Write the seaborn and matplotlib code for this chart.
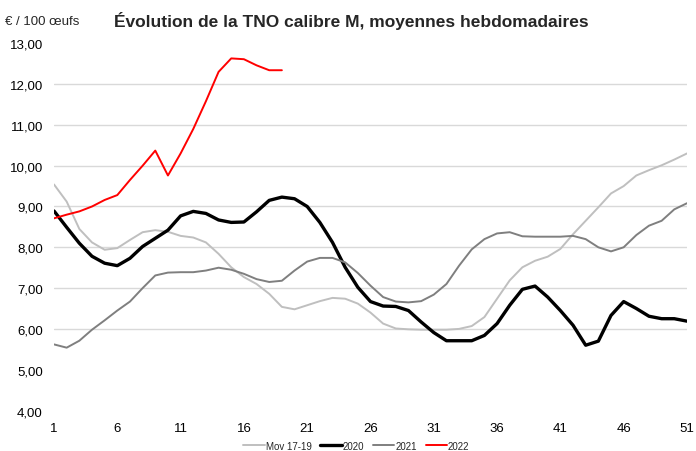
import numpy as np
import pandas as pd
import matplotlib
matplotlib.use("Agg")
import matplotlib.pyplot as plt
import seaborn as sns

weeks = list(range(1, 52))

mov_17_19 = [9.54, 9.12, 8.45, 8.12, 7.94, 7.98, 8.18, 8.37, 8.42, 8.38,
             8.28, 8.24, 8.12, 7.84, 7.51, 7.27, 7.10, 6.86, 6.54, 6.48,
             6.58, 6.68, 6.76, 6.74, 6.62, 6.40, 6.13, 6.01, 5.99, 5.98,
             5.98, 5.98, 6.00, 6.07, 6.29, 6.74, 7.19, 7.51, 7.67, 7.77,
             7.96, 8.32, 8.65, 8.98, 9.32, 9.50, 9.76, 9.89, 10.01, 10.15, 10.30]

y2020 = [8.89, 8.49, 8.10, 7.78, 7.61, 7.55, 7.73, 8.02, 8.22, 8.42,
         8.77, 8.88, 8.83, 8.67, 8.61, 8.62, 8.87, 9.15, 9.23, 9.19,
         9.00, 8.61, 8.12, 7.51, 7.02, 6.67, 6.56, 6.55, 6.45, 6.17,
         5.91, 5.71, 5.71, 5.71, 5.84, 6.13, 6.58, 6.97, 7.05, 6.78,
         6.45, 6.09, 5.60, 5.70, 6.33, 6.67, 6.50, 6.31, 6.25, 6.25, 6.19]

y2021 = [5.62, 5.54, 5.71, 5.98, 6.21, 6.45, 6.67, 7.00, 7.31, 7.38,
         7.39, 7.39, 7.43, 7.50, 7.45, 7.35, 7.22, 7.15, 7.18, 7.43,
         7.65, 7.74, 7.74, 7.63, 7.37, 7.06, 6.78, 6.67, 6.65, 6.68,
         6.84, 7.10, 7.55, 7.95, 8.20, 8.34, 8.37, 8.27, 8.26, 8.26,
         8.26, 8.28, 8.20, 8.00, 7.90, 8.00, 8.30, 8.53, 8.65, 8.93, 9.08]

y2022 = [8.71, 8.80, 8.88, 9.00, 9.16, 9.28, 9.65, 10.00, 10.37, 9.76,
         10.30, 10.90, 11.58, 12.30, 12.63, 12.61, 12.46, 12.34, 12.34]

series = ["Mov 17-19", "2020", "2021", "2022"]
colors = {"Mov 17-19": "#BFBFBF", "2020": "#000000", "2021": "#7F7F7F", "2022": "#FF0000"}
widths = {"Mov 17-19": 1.4, "2020": 2.4, "2021": 1.4, "2022": 1.4}

frames = []
for name, vals in zip(series, [mov_17_19, y2020, y2021, y2022]):
    frames.append(pd.DataFrame({"semaine": weeks[:len(vals)], "prix": vals, "serie": name}))
df = pd.concat(frames, ignore_index=True)

sns.set_theme(style="white")
plt.rcParams["font.family"] = ["Liberation Sans", "DejaVu Sans"]

fig = plt.figure(figsize=(6.96, 4.52), dpi=100)
ax = fig.add_axes([0.0776, 0.0896, 0.9094, 0.8124])

for name in series:
    sns.lineplot(data=df[df["serie"] == name], x="semaine", y="prix", ax=ax,
                 color=colors[name], linewidth=widths[name], label=name)

ax.set_xlim(1, 51)
ax.set_ylim(4, 13)
ax.set_xticks(range(1, 52, 5))
ax.set_yticks(np.arange(4, 13.5, 1))
ax.set_yticklabels([f"{v:.2f}".replace(".", ",") for v in np.arange(4, 13.5, 1)])
ax.tick_params(axis="both", length=0, labelsize=9.5, colors="#000000")
ax.tick_params(axis="y", pad=8)
ax.tick_params(axis="x", pad=8)
ax.set_xlabel("")
ax.set_ylabel("")
ax.grid(axis="y", color="#D9D9D9", linewidth=1)
ax.set_axisbelow(True)
# pas de quadrillage à 4, 5 et 13 sur l'original
for val, gl in zip(np.arange(4, 13.5, 1), ax.yaxis.get_gridlines()):
    if val in (4, 5, 13):
        gl.set_visible(False)
sns.despine(ax=ax, left=True, bottom=True)

fig.text(0.505, 1 - 21 / 452, "Évolution de la TNO calibre M, moyennes hebdomadaires",
         ha="center", va="center", fontsize=12.5, fontweight="bold")
fig.text(0.007, 1 - 22 / 452, "€ / 100 œufs", ha="left", va="center", fontsize=9.5)

handles, labels = ax.get_legend_handles_labels()
ax.get_legend().remove()
fig.legend(handles, labels, loc="center", bbox_to_anchor=(0.512, 0.012), ncol=4,
           frameon=False, fontsize=7, handlelength=2.2, handletextpad=0.1,
           columnspacing=0.9)

fig.savefig("out.png", dpi=100)
